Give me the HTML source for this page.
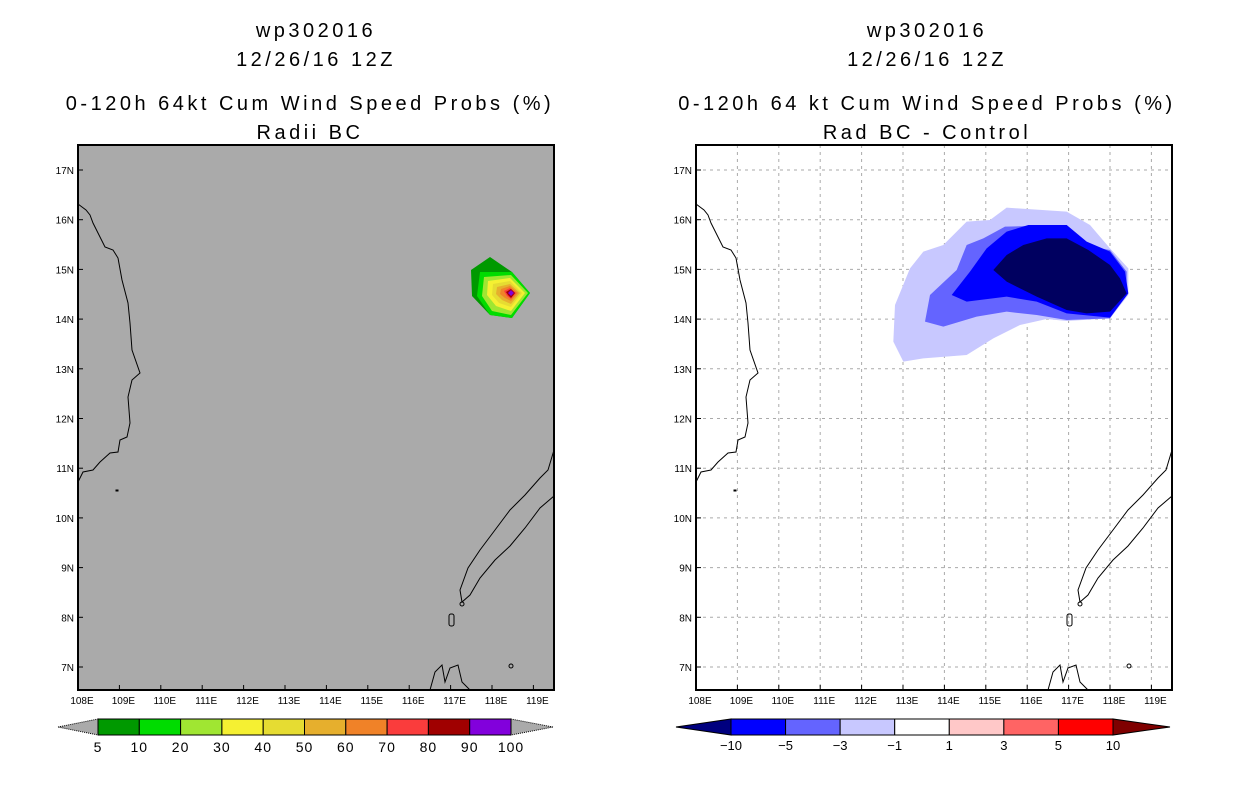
<!DOCTYPE html>
<html><head><meta charset="utf-8"><style>
body{margin:0;background:#fff;width:1236px;height:800px;overflow:hidden}
svg{display:block}
text{font-family:"Liberation Sans",sans-serif;fill:#000}
</style></head><body>
<svg id="s" width="1236" height="800" xmlns="http://www.w3.org/2000/svg">
<g font-size="20" text-anchor="middle" letter-spacing="3.5">
<text x="316" y="37">wp302016</text>
<text x="316" y="66">12/26/16 12Z</text>
<text x="310" y="110">0-120h 64kt Cum Wind Speed Probs (%)</text>
<text x="310" y="139">Radii BC</text>
</g>
<g font-size="20" text-anchor="middle" letter-spacing="3.5">
<text x="927" y="37">wp302016</text>
<text x="927" y="66">12/26/16 12Z</text>
<text x="927" y="110">0-120h 64 kt Cum Wind Speed Probs (%)</text>
<text x="927" y="139">Rad BC - Control</text>
</g>
<g id="left">
<rect x="78" y="145" width="476" height="545" fill="#aaaaaa"/>
<g>
<polygon points="471,270 490,257 512,272 530,293 512,318 490,315 472,296" fill="#009900"/>
<polygon points="480,272 512,272 530,293 512,318 490,315 477,296" fill="#00dc00"/>
<polygon points="484,277 511,275 528,293 511,315 492,311 482,296" fill="#a0e632"/>
<polygon points="488,281 510,278 525,293 511,311 496,306 487,295" fill="#f5f032"/>
<polygon points="493,284 510,281 522,293 511,307 499,303 492,295" fill="#e6dc32"/>
<polygon points="497,287 510,284 520,293 511,304 502,300 496,294" fill="#e6af2d"/>
<polygon points="501,289 510,286 518,293 511,301 505,298 500,294" fill="#f08228"/>
<polygon points="504,291 510,288 516,293 511,299 507,296" fill="#fa3c3c"/>
<polygon points="506,292 511,289 515,293 511,298 508,295" fill="#a00000"/>
<polygon points="508,293 511,290 514,293 511,296" fill="#8200dc"/>
</g>
</g>
<g id="right">
<rect x="696" y="145" width="476" height="545" fill="#fff"/>
<g id="grid"></g>
<g transform="translate(880,195) scale(0.33333)">
<polygon points="380,38 560,50 630,90 690,160 745,220 745,300 690,370 560,378 500,372 420,390 340,430 260,480 130,490 70,500 40,440 45,330 90,220 130,170 190,150 260,80 330,75" fill="#c8c8ff"/>
<polygon points="375,95 560,90 630,155 690,165 740,230 740,300 690,370 560,375 470,360 380,350 290,365 190,395 135,380 150,300 230,225 260,150 310,130" fill="#6464ff"/>
<polygon points="380,110 445,90 560,90 620,140 690,170 735,230 745,295 690,368 560,355 470,320 380,305 260,320 215,300 270,230 320,160" fill="#0000ff"/>
<polygon points="430,150 500,130 560,130 625,165 690,210 720,250 740,295 690,350 620,355 560,345 470,305 380,260 340,225 380,180" fill="#000060"/>
</g>
</g>
<g id="bars"></g>
</svg>
<script>
const lons=[108,109,110,111,112,113,114,115,116,117,118,119];
const lats=[7,8,9,10,11,12,13,14,15,16,17];
const probLevels=['5','10','20','30','40','50','60','70','80','90','100'];
const probColors=['#009900','#00dc00','#a0e632','#f5f032','#e6dc32','#e6af2d','#f08228','#fa3c3c','#a00000','#8200dc'];
const diffLevels=['-10','-5','-3','-1','1','3','5','10'];
const diffColors=['#0000ff','#6464ff','#c8c8ff','#ffffff','#ffc8c8','#ff6464','#ff0000'];
const NS='http://www.w3.org/2000/svg';
const s=document.getElementById('s');
function el(t,a,p){const e=document.createElementNS(NS,t);for(const k in a)e.setAttribute(k,a[k]);(p||s).appendChild(e);return e;}
const lx=(ox,lon)=>ox+(lon-108)*41.4;
const ly=lat=>170+(17-lat)*49.7;
const coast="78,204 86,210 90,215 93,223 105,247 113,250 118,258 122,280 128,303 130,323 132,350 140,373 132,380 128,397 130,423 127,437 120,440 118,452 110,453 100,462 93,470 83,472 78,482";
const pal="554,450 548,470 540,478 525,495 510,510 495,530 480,550 468,568 460,590 462,602 470,595 480,578 495,560 510,546 525,528 540,508 554,496";
const born="430,690 435,672 442,665 445,682 450,668 458,665 462,682 470,690";
[[0,'left'],[618,'right']].forEach(([o,n])=>{
  const g=document.getElementById(n);
  const c=el('g',{transform:`translate(${o},0)`,fill:'none',stroke:'#000','stroke-width':1},g);
  
  
  el('polyline',{points:coast},c);el('polyline',{points:pal},c);el('polyline',{points:born},c);
  el('rect',{x:449,y:614,width:5,height:12,rx:2},c);el('circle',{cx:462,cy:604,r:2},c);
  el('circle',{cx:511,cy:666,r:2},c);el('rect',{x:116,y:490,width:2,height:1,fill:'#000'},c);
  const ox=o+78;
  if(n==='right'){
    const gr=document.getElementById('grid');
    lons.slice(1).forEach(l=>{const x=lx(696,l);const e=el('line',{x1:x,x2:x,y1:145,y2:690,stroke:'#aaa','stroke-dasharray':'3,4'},gr);});
    lats.forEach(l=>{const y=ly(l);const e=el('line',{x1:696,x2:1172,y1:y,y2:y,stroke:'#aaa','stroke-dasharray':'3,4'},gr);});
  }
  const fr=el('rect',{x:ox,y:145,width:476,height:545,fill:'none',stroke:'#000','stroke-width':2},g);
  
  lons.forEach(l=>{const x=lx(ox,l);
    el('line',{x1:x,x2:x,y1:690,y2:685,stroke:'#000'},g);
    const t=el('text',{x:x+4,y:704,'font-size':10,'text-anchor':'middle'},g);t.textContent=l+'E';
    });
  lats.forEach(l=>{const y=ly(l);
    el('line',{x1:ox,x2:ox+5,y1:y,y2:y,stroke:'#000'},g);
    const t=el('text',{x:ox-4,y:y+4,'font-size':10,'text-anchor':'end'},g);t.textContent=l+'N';
    });
});
const b=document.getElementById('bars');
const lb=el('g',{},b);


el('polygon',{points:'58,727 98,719 98,735',fill:'#aaa',stroke:'#000','stroke-dasharray':'1,1'},lb);
el('polygon',{points:'553,727 511,719 511,735',fill:'#aaa',stroke:'#000','stroke-dasharray':'1,1'},lb);
const lw=(511-98)/probColors.length;
probColors.forEach((c,i)=>{const r=el('rect',{x:98+i*lw,y:719,width:lw,height:16,fill:c,stroke:'#000'},lb);});
probLevels.forEach((t,i)=>{const e=el('text',{x:98+i*lw,y:752,'font-size':14,'text-anchor':'middle','letter-spacing':1},lb);e.textContent=t;});
const rb=el('g',{},b);


el('polygon',{points:'676,727 731,719 731,735',fill:'#00007f',stroke:'#000'},rb);
el('polygon',{points:'1170,727 1113,719 1113,735',fill:'#7f0000',stroke:'#000'},rb);
const rw=(1113-731)/diffColors.length;
diffColors.forEach((c,i)=>{const r=el('rect',{x:731+i*rw,y:719,width:rw,height:16,fill:c,stroke:'#000'},rb);});
diffLevels.forEach((t,i)=>{const e=el('text',{x:731+i*rw,y:750,'font-size':13,'text-anchor':'middle'},rb);e.textContent=t.replace('-','\u2212');});
</script>
</body></html>
